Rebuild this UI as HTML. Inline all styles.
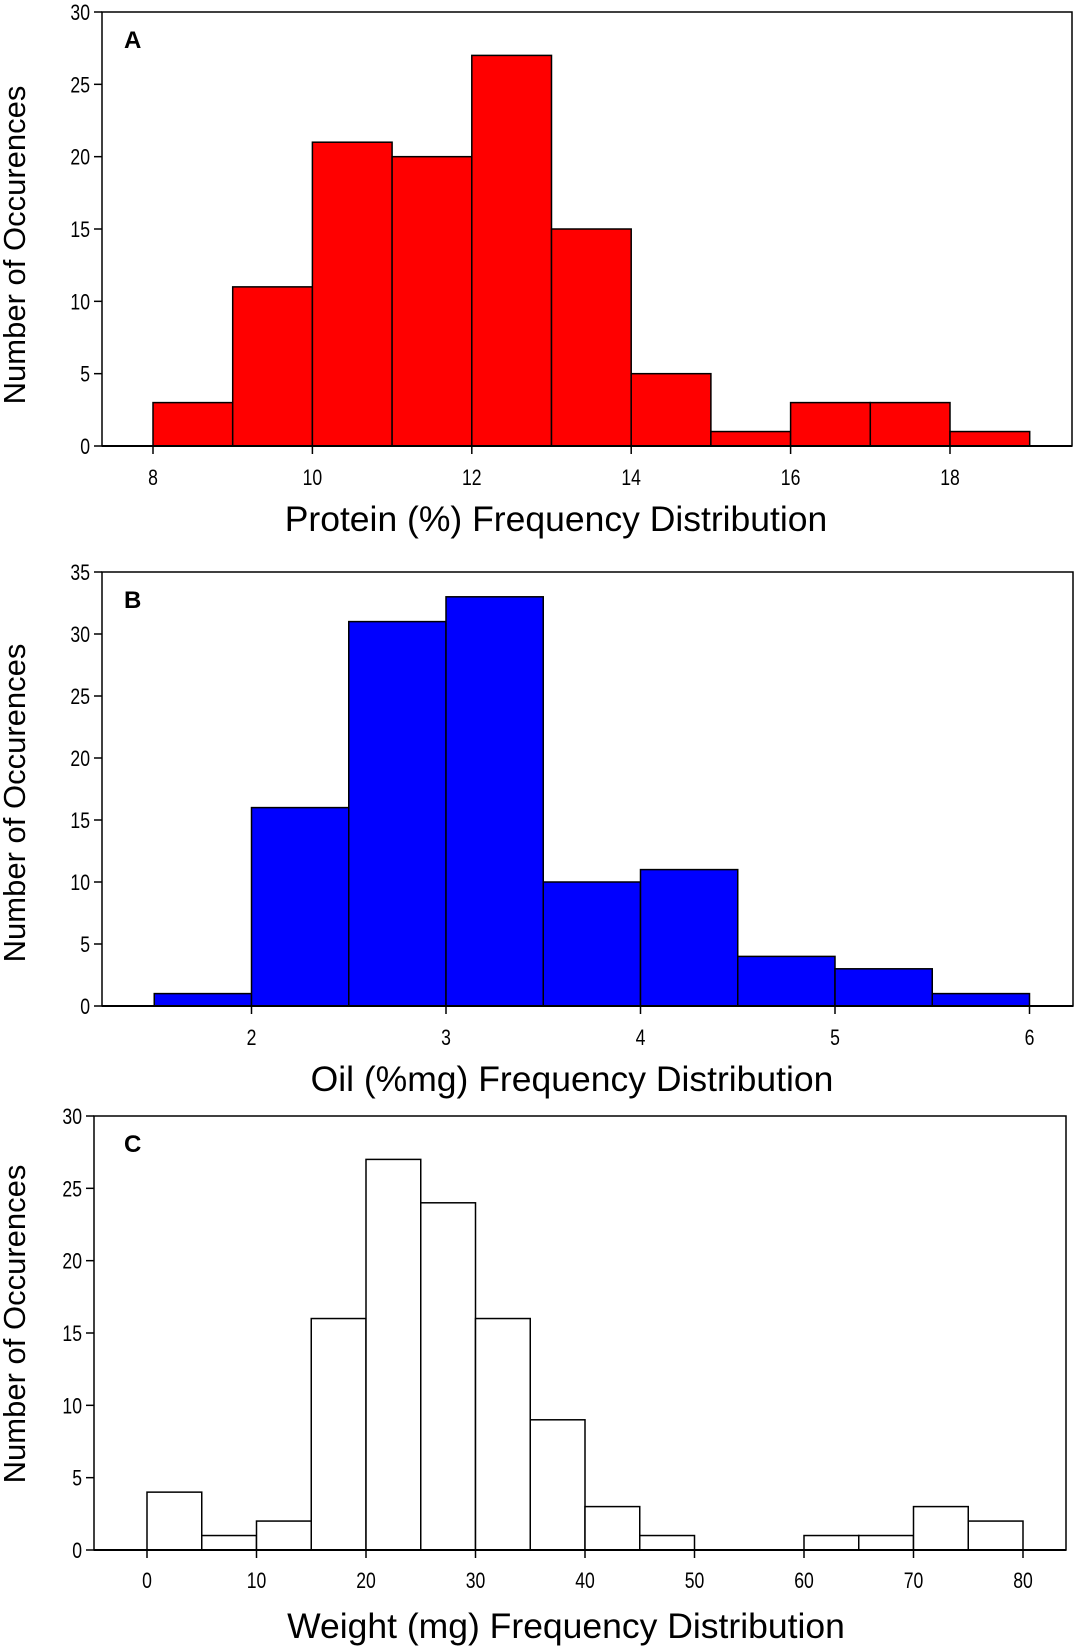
<!DOCTYPE html>
<html><head><meta charset="utf-8"><style>
html,body{margin:0;padding:0;background:#fff;}
svg{display:block;font-family:"Liberation Sans",Arial,sans-serif;}
</style></head><body>
<svg id="fig" width="1075" height="1651" viewBox="0 0 1075 1651" xmlns="http://www.w3.org/2000/svg"></svg>
<script>
// Panel A: Protein
const proteinBinStarts = [8,9,10,11,12,13,14,15,16,17,18];
const proteinBinWidth = 1;
const proteinCounts = [3,11,21,20,27,15,5,1,3,3,1];
const proteinXTicks = [8,10,12,14,16,18];
const proteinYTicks = [0,5,10,15,20,25,30];
// Panel B: Oil
const oilBinStarts = [1.5,2,2.5,3,3.5,4,4.5,5,5.5];
const oilBinWidth = 0.5;
const oilCounts = [1,16,31,33,10,11,4,3,1];
const oilXTicks = [2,3,4,5,6];
const oilYTicks = [0,5,10,15,20,25,30,35];
// Panel C: Weight
const weightBinStarts = [0,5,10,15,20,25,30,35,40,45,50,55,60,65,70,75];
const weightBinWidth = 5;
const weightCounts = [4,1,2,16,27,24,16,9,3,1,0,0,1,1,3,2];
const weightXTicks = [0,10,20,30,40,50,60,70,80];
const weightYTicks = [0,5,10,15,20,25,30];

const NS = "http://www.w3.org/2000/svg";
const svg = document.getElementById('fig');
function mk(tag, attrs, parent){
  const e = document.createElementNS(NS, tag);
  for (const k in attrs) e.setAttribute(k, attrs[k]);
  (parent||svg).appendChild(e);
  return e;
}

function panel(cfg){
  const g = mk('g', {});
  
  
  const L=cfg.left, R=cfg.right, T=cfg.top, B=cfg.bottom;
  const xs = v => cfg.px0 + (v - cfg.v0) * (cfg.px1 - cfg.px0) / (cfg.v1 - cfg.v0);
  const ys = v => B - v * (B - T) / cfg.ymax;
  cfg.starts.forEach((s, i) => {
    const c = cfg.counts[i];
    if (c <= 0) return;
    const x0 = xs(s), x1 = xs(s + cfg.width);
    const r = mk('rect', {x:x0, y:ys(c), width:x1-x0, height:B-ys(c), fill:cfg.fill, stroke:'#000', 'stroke-width':1.5}, g);
    
    
  });
  const f = mk('rect', {x:L, y:T, width:R-L, height:B-T, fill:'none', stroke:'#000', 'stroke-width':1.5}, g);
  
  
  mk('line', {x1:L, y1:B, x2:R, y2:B, stroke:'#000', 'stroke-width':2}, g);
  cfg.yticks.forEach(t => {
    const y = ys(t);
    mk('line', {x1:L-8, y1:y, x2:L, y2:y, stroke:'#000', 'stroke-width':1.5}, g);
    const tx = mk('text', {x:L-12, y:y+8, 'text-anchor':'end', 'font-size':22, transform:`translate(${L-12},0) scale(0.8,1) translate(${-(L-12)},0)`}, g);
    tx.textContent = t;
    
    
  });
  cfg.xticks.forEach(t => {
    const x = xs(t);
    mk('line', {x1:x, y1:B, x2:x, y2:B+8, stroke:'#000', 'stroke-width':1.5}, g);
    const tx = mk('text', {x:x, y:cfg.xlabY, 'text-anchor':'middle', 'font-size':22, transform:`translate(${x},0) scale(0.8,1) translate(${-x},0)`}, g);
    tx.textContent = t;
    
    
  });
  const xt = mk('text', {x:cfg.titleX, y:cfg.titleY, 'text-anchor':'middle', 'font-size':35.5}, g);
  xt.textContent = cfg.title;
  
  
  const cy = cfg.yTitleY;
  const yt = mk('text', {x:25, y:cy, 'text-anchor':'middle', 'font-size':31, transform:`rotate(-90 25 ${cy})`}, g);
  yt.textContent = 'Number of Occurences';
  
  
  const lt = mk('text', {x:124, y:T+36, 'font-size':24, 'font-weight':'bold'}, g);
  lt.textContent = cfg.letter;
  
  
}

panel({letter:'A', left:102, right:1072, top:12, bottom:446, v0:8, v1:18, px0:153, px1:950, ymax:30,
  starts:proteinBinStarts, width:proteinBinWidth, counts:proteinCounts, xticks:proteinXTicks, yticks:proteinYTicks,
  fill:'#ff0000', xlabY:485, titleX:556, titleY:531, yTitleY:245, title:'Protein (%) Frequency Distribution'});
panel({letter:'B', left:102, right:1073, top:572, bottom:1006, v0:2, v1:6, px0:251.5, px1:1029.5, ymax:35,
  starts:oilBinStarts, width:oilBinWidth, counts:oilCounts, xticks:oilXTicks, yticks:oilYTicks,
  fill:'#0000ff', xlabY:1045, titleX:572, titleY:1091, yTitleY:803, title:'Oil (%mg) Frequency Distribution'});
panel({letter:'C', left:94, right:1066, top:1116, bottom:1550, v0:0, v1:80, px0:147, px1:1023, ymax:30,
  starts:weightBinStarts, width:weightBinWidth, counts:weightCounts, xticks:weightXTicks, yticks:weightYTicks,
  fill:'#ffffff', xlabY:1588, titleX:566, titleY:1638, yTitleY:1324, title:'Weight (mg) Frequency Distribution'});
</script>
</body></html>
